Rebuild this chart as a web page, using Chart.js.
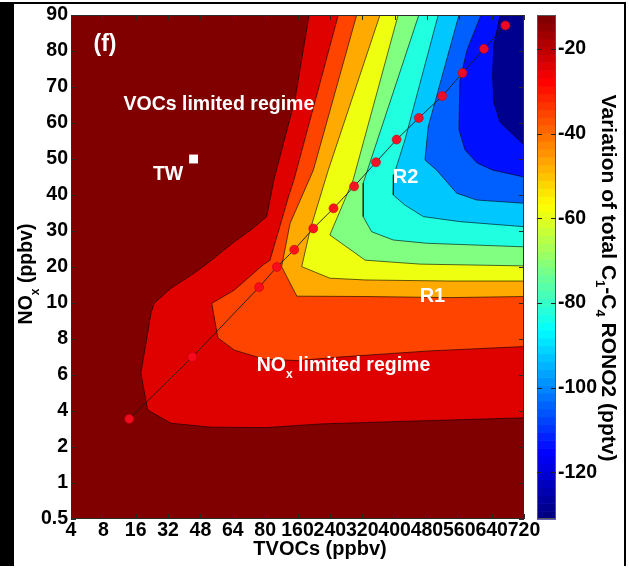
<!DOCTYPE html>
<html>
<head>
<meta charset="utf-8">
<script src="https://cdn.jsdelivr.net/npm/chart.js@4/dist/chart.umd.min.js"></script>
<style>
  html, body { margin:0; padding:0; background:#fff; width:629px; height:571px; overflow:hidden; }
  #frame { position:absolute; left:0; top:2px; width:626px; height:564px; box-sizing:border-box;
           border-top:2px solid #000; border-left:14px solid #000; border-right:2px solid #000; }
  #main { position:absolute; left:0; top:0; }
  #cbar { position:absolute; left:520px; top:0; }
</style>
</head>
<body>
<div id="frame"></div>
<canvas id="main" width="629" height="571"></canvas>
<canvas id="cbar" width="109" height="571"></canvas>
<script>
// ---------------- data ----------------
// Axis tick labels (axes are evenly spaced per tick, as in the figure)
const xTickLabels = [4, 8, 16, 32, 48, 64, 80, 160, 240, 320, 400, 480, 560, 640, 720];   // TVOCs (ppbv)
const yTickLabels = [0.5, 1, 2, 4, 6, 8, 10, 20, 30, 40, 50, 60, 70, 80, 90];             // NOx (ppbv)

// Colour scale of the colour bar
const cbarMin = -131, cbarMax = -12;
const cbarTicks = [-20, -40, -60, -80, -100, -120];

// Red dotted path (TVOCs, NOx in ppbv)
const pathTVOC = [14.4, 44, 77, 109, 152, 199, 249, 300, 354, 405, 460, 518, 568, 621, 674];
const pathNOx  = [3.56, 7.0, 14.4, 20, 24.8, 30.7, 36.3, 42.4, 49.1, 55.4, 61.4, 67.5, 73.9, 80.6, 87.1];

// TW site (TVOCs, NOx in ppbv)
const twPoint = [44.6, 50];

// Filled-contour boundaries, in tick-index coordinates of the plotted axes (x index, y index)
const contourRed = [[7.36,14],[6.92,11.64],[6.27,9.42],[6.05,8.40],[5.56,8.03],[5.05,7.70],[4.22,7.10],[3.81,6.83],
  [3.09,6.41],[2.57,5.99],[2.47,5.71],[2.16,4.05],[2.37,3.03],[3.09,2.66],[4.33,2.55],[6.05,2.54],[7.70,2.64],[10.17,2.71],[14,2.81]];
const contourOrangeRed = [[8.26,14],[6.89,9.42],[6.72,8.95],[6.15,7.19],[5.94,7.06],[5.05,6.36],[4.35,5.99],[4.54,5.03],
  [5.05,4.69],[5.98,4.44],[7.0,4.40],[8.31,4.50],[11.09,4.67],[14,4.79]];
const contourOrange = [[8.83,14],[7.49,9.69],[6.77,8.21],[6.51,7.01],[6.67,6.73],[6.98,6.19],[9.09,6.18],[11.71,6.15],[14,6.18]];
const contourYellow = [[9.55,14],[7.95,9.69],[7.39,8.03],[7.13,7.01],[8.00,6.69],[9.09,6.64],[11.71,6.61],[14,6.61]];
const contourGreen = [[10.11,14],[8.72,9.42],[8.00,7.89],[9.09,7.19],[10.79,7.08],[14,7.03]];
const contourCyan = [[10.75,14],[9.03,9.33],[9.03,8.40],[9.29,7.98],[9.96,7.75],[10.99,7.66],[14,7.56]];
const contourSky = [[11.35,14],[10.32,10.53],[9.98,9.56],[9.96,9.0],[10.32,8.72],[10.89,8.40],[12.02,8.26],[14,8.12]];
const contourBlue = [[11.99,14],[11.04,10.90],[10.94,9.97],[11.30,9.69],[11.92,9.05],[12.54,8.86],[14,8.77]];
const contourBlue2 = [[12.67,14],[12.24,13.03],[12.02,12.19],[11.99,10.81],[12.18,10.25],[12.55,9.89],[13.04,9.69],[14,9.5]];
const contourNavy = [[13.26,14],[13.07,13.17],[13.03,12.33],[13.07,11.56],[13.26,11.03],[14,10.39]];

// ---------------- styles ----------------
const FONT = "'Liberation Sans', Arial, Helvetica, sans-serif";
const bands = [
  { pts: contourRed,       color: '#df0000' },
  { pts: contourOrangeRed, color: '#ff4400' },
  { pts: contourOrange,    color: '#ffaa00' },
  { pts: contourYellow,    color: '#eeff10' },
  { pts: contourGreen,     color: '#80ff80' },
  { pts: contourCyan,      color: '#20ffdf' },
  { pts: contourSky,       color: '#00c8ff' },
  { pts: contourBlue,      color: '#0060ff' },
  { pts: contourBlue2,     color: '#0010ff' },
  { pts: contourNavy,      color: '#00008f' }
];

function toIdx(v, ticks) {
  for (let i = 0; i < ticks.length - 1; i++) {
    if (v <= ticks[i + 1]) return i + (v - ticks[i]) / (ticks[i + 1] - ticks[i]);
  }
  return ticks.length - 1;
}

const last = xTickLabels.length - 1;
const datasets = [];
datasets.push({
  label: 'path', order: 0,
  data: pathTVOC.map((v, i) => ({ x: toIdx(v, xTickLabels), y: toIdx(pathNOx[i], yTickLabels) })),
  borderColor: '#1a1a1a', borderWidth: 0.9, tension: 0, fill: false,
  pointRadius: 4.5, pointBackgroundColor: 'rgba(250,10,30,0.95)', pointBorderColor: 'rgba(190,0,20,0.9)', pointBorderWidth: 0.6
});
datasets.push({
  label: 'TW', order: 0, showLine: false,
  data: [{ x: toIdx(twPoint[0], xTickLabels), y: toIdx(twPoint[1], yTickLabels) }],
  pointStyle: 'rect', pointRadius: 6.3, pointBackgroundColor: '#ffffff', pointBorderColor: '#ffffff', pointBorderWidth: 0
});
// innermost band drawn last (on top)
bands.slice().reverse().forEach((b, k) => {
  datasets.push({
    label: 'band' + k, order: k + 1,
    data: b.pts.concat([[last, last]]).map(p => ({ x: p[0], y: p[1] })),
    fill: 'shape', backgroundColor: b.color, borderColor: 'rgba(0,0,0,0.75)', borderWidth: 0.8,
    pointRadius: 0, tension: 0
  });
});
datasets.push({
  label: 'bg', order: 20,
  data: [{x:0,y:0},{x:last,y:0},{x:last,y:last},{x:0,y:last}],
  fill: 'shape', backgroundColor: '#800000', borderWidth: 0, pointRadius: 0, tension: 0
});

function drawRich(ctx, parts, x, y, rot, size, color, align) {
  ctx.save();
  ctx.translate(x, y);
  ctx.rotate(rot);
  const base = 'bold ' + size + 'px ' + FONT;
  const sub = 'bold ' + Math.round(size * 0.62) + 'px ' + FONT;
  let total = 0;
  parts.forEach(p => { ctx.font = p.sub ? sub : base; p.w = ctx.measureText(p.t).width; total += p.w; });
  let cx = align === 'left' ? 0 : -total / 2;
  ctx.fillStyle = color;
  ctx.textBaseline = 'middle';
  ctx.textAlign = 'left';
  parts.forEach(p => {
    ctx.font = p.sub ? sub : base;
    ctx.fillText(p.t, cx, p.sub ? size * 0.42 : 0);
    cx += p.w;
  });
  ctx.restore();
}

const framePlugin = {
  id: 'frame',
  afterDatasetsDraw(chart) {
    const { ctx, chartArea: a, scales: { x, y } } = chart;
    ctx.save();
    ctx.strokeStyle = '#2a2a2a';
    ctx.lineWidth = 1;
    ctx.strokeRect(a.left + 0.5, a.top + 0.5, a.right - a.left - 1, a.bottom - a.top - 1);
    ctx.beginPath();
    const tl = 5;
    xTickLabels.forEach((_, i) => {
      const px = Math.round(x.getPixelForValue(i)) + 0.5;
      ctx.moveTo(px, a.bottom); ctx.lineTo(px, a.bottom - tl);
      ctx.moveTo(px, a.top); ctx.lineTo(px, a.top + tl);
    });
    yTickLabels.forEach((_, i) => {
      const py = Math.round(y.getPixelForValue(i)) + 0.5;
      ctx.moveTo(a.left, py); ctx.lineTo(a.left + tl, py);
      ctx.moveTo(a.right, py); ctx.lineTo(a.right - tl, py);
    });
    ctx.stroke();
    ctx.restore();
  },
  afterDraw(chart) {
    const { ctx, chartArea: a, scales: { x, y } } = chart;
    const X = v => x.getPixelForValue(v), Y = v => y.getPixelForValue(v);
    // axis titles
    drawRich(ctx, [{ t: 'TVOCs (ppbv)' }], 320, 549, 0, 20, '#000');
    drawRich(ctx, [{ t: 'NO' }, { t: 'x', sub: true }, { t: ' (ppbv)' }], 27, 274, -Math.PI / 2, 19.5, '#000');
    // annotations
    drawRich(ctx, [{ t: '(f)' }], X(1.05), Y(13.19), 0, 23, '#fff');
    drawRich(ctx, [{ t: 'VOCs limited regime' }], X(4.57), Y(11.5), 0, 19.5, '#fff');
    drawRich(ctx, [{ t: 'TW' }], X(3.0), Y(9.56), 0, 19.5, '#fff');
    drawRich(ctx, [{ t: 'R2' }], X(10.34), Y(9.49), 0, 20, '#fff');
    drawRich(ctx, [{ t: 'R1' }], X(11.17), Y(6.17), 0, 20, '#fff');
    drawRich(ctx, [{ t: 'NO' }, { t: 'x', sub: true }, { t: ' limited regime' }], X(5.74), Y(4.25), 0, 19.5, '#fff', 'left');
  }
};

const tickFont = { family: FONT, size: 19.5, weight: 'bold' };

new Chart(document.getElementById('main'), {
  type: 'line',
  data: { datasets },
  options: {
    responsive: false, animation: false, events: [],
    layout: { padding: { left: 0, right: 105, top: 15, bottom: 0 } },
    plugins: { legend: { display: false }, tooltip: { enabled: false } },
    scales: {
      x: {
        type: 'linear', min: 0, max: last,
        afterFit: s => { s.height = 52; },
        afterBuildTicks: s => { s.ticks = xTickLabels.map((_, i) => ({ value: i })); },
        ticks: { autoSkip: false, maxRotation: 0, minRotation: 0, padding: 0, color: '#000', font: tickFont,
                 callback: v => String(xTickLabels[Math.round(v)]) },
        grid: { display: false, drawTicks: false }, border: { display: false }
      },
      y: {
        type: 'linear', min: 0, max: yTickLabels.length - 1,
        afterFit: s => { s.width = 71; },
        afterBuildTicks: s => { s.ticks = yTickLabels.map((_, i) => ({ value: i })); },
        ticks: { autoSkip: false, padding: 3, color: '#000', font: tickFont,
                 callback: v => String(yTickLabels[Math.round(v)]) },
        grid: { display: false, drawTicks: false }, border: { display: false }
      }
    }
  },
  plugins: [framePlugin]
});

// ---------------- colour bar ----------------
function jet(t) {
  const c = v => Math.max(0, Math.min(1, v));
  const r = c(1.5 - Math.abs(4 * t - 3)), g = c(1.5 - Math.abs(4 * t - 2)), b = c(1.5 - Math.abs(4 * t - 1));
  return 'rgb(' + Math.round(r * 255) + ',' + Math.round(g * 255) + ',' + Math.round(b * 255) + ')';
}
const cbarPlugin = {
  id: 'cbarPlugin',
  beforeDatasetsDraw(chart) {
    const { ctx, chartArea: a, scales: { y } } = chart;
    const n = 64;
    ctx.save();
    for (let i = 0; i < n; i++) {
      const lo = cbarMin + (cbarMax - cbarMin) * i / n;
      const hi = cbarMin + (cbarMax - cbarMin) * (i + 1) / n;
      const y0 = y.getPixelForValue(lo), y1 = y.getPixelForValue(hi);
      ctx.fillStyle = jet(i / (n - 1));
      ctx.fillRect(a.left, y1, a.right - a.left, y0 - y1 + 0.6);
    }
    ctx.strokeStyle = '#555';
    ctx.lineWidth = 1;
    ctx.strokeRect(a.left + 0.5, a.top + 0.5, a.right - a.left - 1, a.bottom - a.top - 1);
    ctx.strokeStyle = '#222';
    ctx.beginPath();
    cbarTicks.forEach(v => {
      const py = Math.round(y.getPixelForValue(v)) + 0.5;
      ctx.moveTo(a.left, py); ctx.lineTo(a.left + 5, py);
      ctx.moveTo(a.right, py); ctx.lineTo(a.right - 5, py);
    });
    ctx.stroke();
    ctx.restore();
  },
  afterDraw(chart) {
    drawRich(chart.ctx, [{ t: 'Variation of total C' }, { t: '1', sub: true }, { t: '-C' }, { t: '4', sub: true }, { t: ' RONO2 (pptv)' }],
      88, 278, Math.PI / 2, 21, '#000');
  }
};
new Chart(document.getElementById('cbar'), {
  type: 'line',
  data: { datasets: [] },
  options: {
    responsive: false, animation: false, events: [],
    layout: { padding: { left: 17, right: 0, top: 15, bottom: 52 } },
    plugins: { legend: { display: false }, tooltip: { enabled: false } },
    scales: {
      x: { type: 'linear', display: false, min: 0, max: 1 },
      y: {
        type: 'linear', position: 'right', min: cbarMin, max: cbarMax,
        afterFit: s => { s.width = 73; },
        afterBuildTicks: s => { s.ticks = cbarTicks.map(v => ({ value: v })); },
        ticks: { autoSkip: false, padding: 2, color: '#000', font: { family: FONT, size: 19.5, weight: 'bold' },
                 callback: v => String(v) },
        grid: { display: false, drawTicks: false }, border: { display: false }
      }
    }
  },
  plugins: [cbarPlugin]
});
</script>
</body>
</html>
